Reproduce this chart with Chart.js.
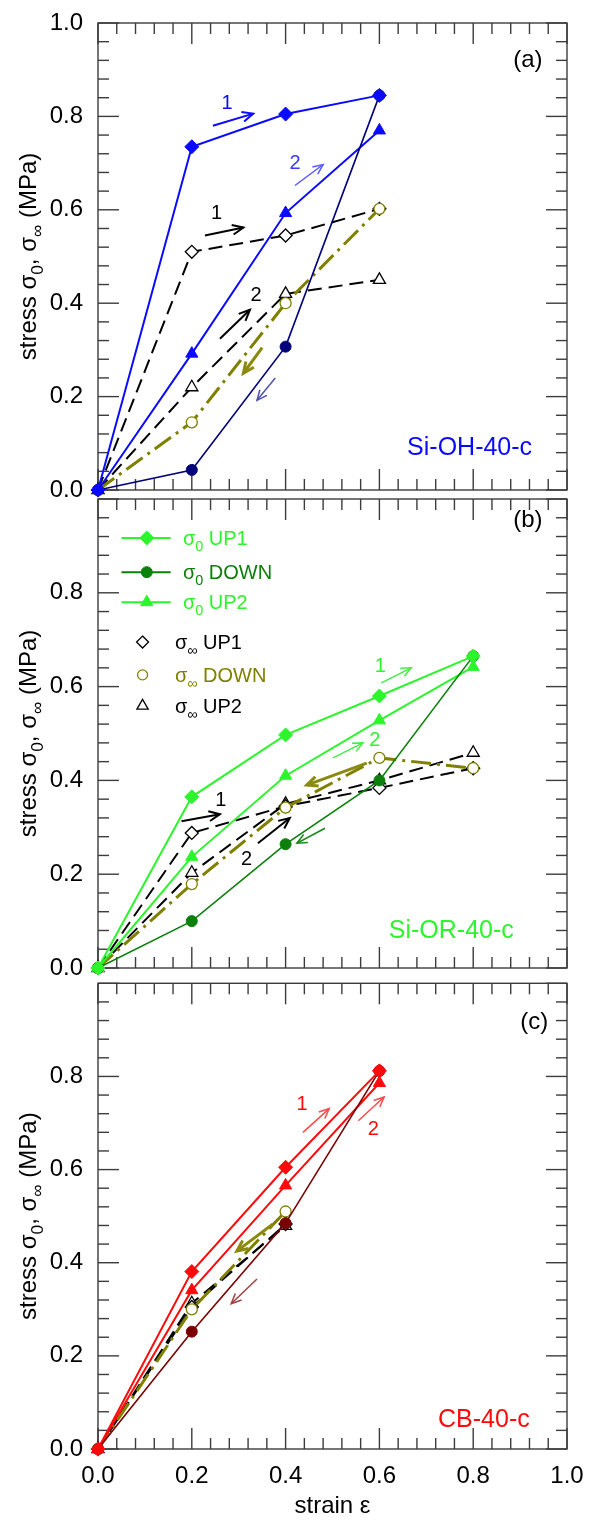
<!DOCTYPE html>
<html><head><meta charset="utf-8">
<script src="https://cdn.jsdelivr.net/npm/chart.js@4.4.0/dist/chart.umd.min.js"></script>
<style>
html,body{margin:0;padding:0;background:#fff;}
body{width:589px;height:1521px;position:relative;overflow:hidden;}
canvas{position:absolute;left:0;}
</style></head><body>
<canvas id="ca" width="589" height="500" style="top:0px"></canvas>
<canvas id="cb" width="589" height="490" style="top:490px"></canvas>
<canvas id="cc" width="589" height="546" style="top:975px"></canvas>
<script>
// ---------------- DATA ----------------
const xTicks = [0, 0.2, 0.4, 0.6, 0.8, 1.0];
const xTickLabels = ['0.0', '0.2', '0.4', '0.6', '0.8', '1.0'];
const yTicksA = [0, 0.2, 0.4, 0.6, 0.8, 1.0];
const yTickLabelsA = ['0.0', '0.2', '0.4', '0.6', '0.8', '1.0'];
const yTicksBC = [0, 0.2, 0.4, 0.6, 0.8];
const yTickLabelsBC = ['0.0', '0.2', '0.4', '0.6', '0.8'];
const minorStep = 0.04;

// panel (a) Si-OH-40-c
const strainA = [0, 0.2, 0.4, 0.6];
const a_s0_up1 = [0, 0.735, 0.805, 0.845];
const a_s0_down = [0, 0.043, 0.307, 0.845];
const a_s0_up2 = [0, 0.292, 0.593, 0.770];
const a_sinf_up1 = [0, 0.510, 0.545, 0.602];
const a_sinf_down = [0, 0.145, 0.400, 0.602];
const a_sinf_up2 = [0, 0.220, 0.420, 0.450];

// panel (b) Si-OR-40-c
const strainB = [0, 0.2, 0.4, 0.6, 0.8];
const b_s0_up1 = [0, 0.365, 0.497, 0.580, 0.665];
const b_s0_down = [0, 0.100, 0.264, 0.400, 0.665];
const b_s0_up2 = [0, 0.237, 0.410, 0.528, 0.642];
const b_sinf_up1 = [0, 0.288, 0.345, 0.384, 0.426];
const b_sinf_down = [0, 0.179, 0.342, 0.448, 0.426];
const b_sinf_up2 = [0, 0.203, 0.350, 0.400, 0.459];

// panel (c) CB-40-c
const strainC = [0, 0.2, 0.4, 0.6];
const strainCinf = [0, 0.2, 0.4];
const c_s0_up1 = [0, 0.381, 0.605, 0.812];
const c_s0_down = [0, 0.252, 0.485, 0.812];
const c_s0_up2 = [0, 0.341, 0.566, 0.786];
const c_sinf_up1 = [0, 0.305, 0.483];
const c_sinf_down = [0, 0.300, 0.510];
const c_sinf_up2 = [0, 0.313, 0.479];

const legendLabels = ['UP1', 'DOWN', 'UP2', 'UP1', 'DOWN', 'UP2'];
const sampleNames = ['Si-OH-40-c', 'Si-OR-40-c', 'CB-40-c'];
const panelTags = ['(a)', '(b)', '(c)'];

// ---------------- STYLE ----------------
const FONT = "'Liberation Sans', Arial, sans-serif";
const BLUE = '#0a0aff', NAVY = '#00007a';
const LIME = '#2cf52c', DGREEN = '#0b800b';
const RED = '#ff0a0a', DRED = '#7a0000';
const OLIVE = '#808000';
const fontStr = (s) => s + 'px ' + FONT;

function pts(xs, ys) { return ys.map((y, i) => ({ x: xs[i], y: y })); }
function s0(label, xs, ys, color, shape, r, w) {
  return { label, data: pts(xs, ys), borderColor: color, backgroundColor: color,
    pointBackgroundColor: color, pointBorderColor: color, pointStyle: shape,
    pointRadius: r, pointBorderWidth: 1, borderWidth: w, tension: 0, fill: false, clip: false };
}
function sinf(label, xs, ys, color, shape, r, w, dash) {
  return { label, data: pts(xs, ys), borderColor: color, backgroundColor: '#fff',
    pointBackgroundColor: '#fff', pointBorderColor: color, pointStyle: shape,
    pointRadius: r, pointBorderWidth: 1.3, borderWidth: w, borderDash: dash,
    tension: 0, fill: false, clip: false };
}
const DASH = [14, 7];
const DASHDOT = [20, 6, 3, 6];

function buildSets(xs, xsInf, up1, down, up2, iu1, idn, iu2, cUp, cDown) {
  return [
    s0('σ0 UP1', xs, up1, cUp, 'rectRot', 7, 2),
    s0('σ0 DOWN', xs, down, cDown, 'circle', 5.5, 1.6),
    s0('σ0 UP2', xs, up2, cUp, 'triangle', 7, 2),
    sinf('σ∞ DOWN', xsInf, idn, OLIVE, 'circle', 5.5, 3, DASHDOT),
    sinf('σ∞ UP1', xsInf, iu1, '#000', 'rectRot', 6.5, 2, DASH),
    sinf('σ∞ UP2', xsInf, iu2, '#000', 'triangle', 7, 2, DASH)
  ];
}

// ---------------- DRAW HELPERS ----------------
function line(ctx, x1, y1, x2, y2) { ctx.beginPath(); ctx.moveTo(x1, y1); ctx.lineTo(x2, y2); ctx.stroke(); }
function richWidth(ctx, parts, size) {
  let w = 0;
  for (const p of parts) { ctx.font = fontStr(p.sub ? size * 0.72 : size); w += ctx.measureText(p.t).width; }
  return w;
}
function drawRich(ctx, parts, x, y, size, color, align) {
  const w = richWidth(ctx, parts, size);
  let cx = align === 'center' ? x - w / 2 : x;
  ctx.textAlign = 'left'; ctx.textBaseline = 'alphabetic';
  for (const p of parts) {
    ctx.font = fontStr(p.sub ? size * 0.72 : size);
    ctx.fillStyle = color;
    ctx.fillText(p.t, cx, y + (p.sub ? size * 0.3 : 0));
    cx += ctx.measureText(p.t).width;
  }
}
function arrow(ctx, x1, y1, x2, y2, color, w, head) {
  ctx.save(); ctx.strokeStyle = color; ctx.lineWidth = w; ctx.lineCap = 'butt';
  line(ctx, x1, y1, x2, y2);
  const ang = Math.atan2(y2 - y1, x2 - x1), h = head || 11, a = 0.42;
  ctx.beginPath();
  ctx.moveTo(x2 - h * Math.cos(ang - a), y2 - h * Math.sin(ang - a));
  ctx.lineTo(x2, y2);
  ctx.lineTo(x2 - h * Math.cos(ang + a), y2 - h * Math.sin(ang + a));
  ctx.stroke();
  ctx.restore();
}
function marker(ctx, shape, x, y, r, fill, stroke, lw) {
  ctx.save(); ctx.beginPath();
  if (shape === 'diamond') { ctx.moveTo(x, y - r); ctx.lineTo(x + r, y); ctx.lineTo(x, y + r); ctx.lineTo(x - r, y); ctx.closePath(); }
  else if (shape === 'circle') { ctx.arc(x, y, r, 0, Math.PI * 2); }
  else { const s = Math.sin(Math.PI / 3) * r; ctx.moveTo(x, y - r); ctx.lineTo(x + s, y + r / 2); ctx.lineTo(x - s, y + r / 2); ctx.closePath(); }
  ctx.fillStyle = fill; ctx.fill(); ctx.strokeStyle = stroke; ctx.lineWidth = lw; ctx.stroke();
  ctx.restore();
}

const framePlugin = {
  id: 'frame',
  beforeDatasetsDraw(chart) {
    const { ctx, chartArea: a, scales: { x, y } } = chart;
    ctx.save();
    ctx.strokeStyle = '#3c3c3c'; ctx.lineWidth = 1.4;
    ctx.strokeRect(a.left, a.top, a.right - a.left, a.bottom - a.top);
    const n = Math.round(1 / minorStep);
    for (let i = 0; i <= n; i++) {
      const v = i * minorStep, L = (i % 5 === 0) ? 21 : 11;
      const px = x.getPixelForValue(v), py = y.getPixelForValue(v);
      line(ctx, px, a.bottom, px, a.bottom - L);
      line(ctx, px, a.top, px, a.top + L);
      line(ctx, a.left, py, a.left + L, py);
      line(ctx, a.right, py, a.right - L, py);
    }
    ctx.restore();
  }
};

function decoPlugin(cfg) {
  return {
    id: 'deco',
    afterDatasetsDraw(chart) {
      const { ctx, chartArea: a, scales: { x, y } } = chart;
      const X = (v) => x.getPixelForValue(v), Y = (v) => y.getPixelForValue(v);
      ctx.save();
      // y title
      ctx.save();
      ctx.translate(36, (a.top + a.bottom) / 2);
      ctx.rotate(-Math.PI / 2);
      drawRich(ctx, [{ t: 'stress σ' }, { t: '0', sub: 1 }, { t: ', σ' }, { t: '∞', sub: 1 }, { t: ' (MPa)' }], 0, 0, 24, '#000', 'center');
      ctx.restore();
      // x title
      if (cfg.xTitle) {
        ctx.font = fontStr(24); ctx.fillStyle = '#000'; ctx.textAlign = 'center'; ctx.textBaseline = 'alphabetic';
        ctx.fillText(cfg.xTitle, (a.left + a.right) / 2, a.bottom + 64);
      }
      // panel tag
      ctx.font = fontStr(24); ctx.fillStyle = '#000'; ctx.textAlign = 'right'; ctx.textBaseline = 'alphabetic';
      ctx.fillText(cfg.tag[0], X(cfg.tag[1]), Y(cfg.tag[2]));
      // sample name
      ctx.font = fontStr(25); ctx.fillStyle = cfg.name[3]; ctx.textAlign = 'left';
      ctx.fillText(cfg.name[0], X(cfg.name[1]), Y(cfg.name[2]));
      // arrows
      for (const ar of cfg.arrows) arrow(ctx, X(ar[0]), Y(ar[1]), X(ar[2]), Y(ar[3]), ar[4], ar[5], ar[6]);
      // number labels
      ctx.textAlign = 'center'; ctx.textBaseline = 'middle';
      for (const nl of cfg.nums) { ctx.font = fontStr(20); ctx.fillStyle = nl[3]; ctx.fillText(nl[0], X(nl[1]), Y(nl[2])); }
      // legend
      if (cfg.legend) {
        for (const it of cfg.legend) {
          const py = Y(it.y);
          if (it.kind === 0) {
            ctx.save(); ctx.strokeStyle = it.color; ctx.lineWidth = 2; line(ctx, X(0.05), py, X(0.155), py); ctx.restore();
            marker(ctx, it.shape, X(0.104), py, it.r, it.color, it.color, 1);
            drawRich(ctx, [{ t: 'σ' }, { t: '0', sub: 1 }, { t: ' ' + it.text }], X(0.181), py + 7, 20, it.color, 'left');
          } else {
            marker(ctx, it.shape, X(0.095), py, it.r, '#fff', it.color, 1.3);
            drawRich(ctx, [{ t: 'σ' }, { t: '∞', sub: 1 }, { t: ' ' + it.text }], X(0.164), py + 7, 20, it.tcolor, 'left');
          }
        }
      }
      ctx.restore();
    }
  };
}

function makeChart(id, datasets, yTicks, yLabels, showX, padTop, xH, deco) {
  return new Chart(document.getElementById(id), {
    type: 'line',
    data: { datasets },
    options: {
      responsive: false, animation: false, devicePixelRatio: 1,
      layout: { padding: { top: padTop, right: 22, left: 0, bottom: 0 } },
      plugins: { legend: { display: false }, tooltip: { enabled: false } },
      scales: {
        x: {
          type: 'linear', min: 0, max: 1,
          grid: { display: false, drawTicks: false }, border: { display: false },
          afterBuildTicks: (s) => { s.ticks = xTicks.map(v => ({ value: v })); },
          ticks: { display: showX, padding: 13, color: '#000', font: { family: FONT, size: 24 }, maxRotation: 0, autoSkip: false,
            callback: (v) => { const i = xTicks.findIndex(t => Math.abs(t - v) < 1e-6); return i >= 0 ? xTickLabels[i] : ''; } },
          afterFit: (s) => { s.height = xH; s.paddingLeft = 0; s.paddingRight = 0; s.paddingTop = 0; s.paddingBottom = 0; }
        },
        y: {
          type: 'linear', min: 0, max: 1,
          grid: { display: false, drawTicks: false }, border: { display: false },
          afterBuildTicks: (s) => { s.ticks = yTicks.map(v => ({ value: v })); },
          ticks: { padding: 15, color: '#000', font: { family: FONT, size: 24 }, autoSkip: false,
            callback: (v) => { const i = yTicks.findIndex(t => Math.abs(t - v) < 1e-6); return i >= 0 ? yLabels[i] : ''; } },
          afterFit: (s) => { s.width = 98; s.paddingTop = 0; s.paddingBottom = 0; s.paddingLeft = 0; s.paddingRight = 0; }
        }
      }
    },
    plugins: [framePlugin, decoPlugin(deco)]
  });
}

// panel (a)
makeChart('ca',
  buildSets(strainA, strainA, a_s0_up1, a_s0_down, a_s0_up2, a_sinf_up1, a_sinf_down, a_sinf_up2, BLUE, NAVY),
  yTicksA, yTickLabelsA, false, 23, 10, {
    tag: [panelTags[0], 0.948, 0.905],
    name: [sampleNames[0], 0.659, 0.076, BLUE],
    arrows: [
      [0.245, 0.780, 0.331, 0.806, BLUE, 2, 12],
      [0.420, 0.652, 0.480, 0.697, '#5a5aff', 1.5, 11],
      [0.228, 0.545, 0.310, 0.562, '#000', 2, 12],
      [0.260, 0.324, 0.324, 0.386, '#000', 2, 12],
      [0.350, 0.305, 0.310, 0.250, '#8a8a10', 3, 12],
      [0.378, 0.240, 0.339, 0.192, '#5050b0', 1.5, 11]
    ],
    nums: [['1', 0.275, 0.827, BLUE], ['2', 0.420, 0.699, '#3a3aff'], ['1', 0.253, 0.592, '#000'], ['2', 0.337, 0.417, '#000']]
  });

// panel (b)
makeChart('cb',
  buildSets(strainB, strainB, b_s0_up1, b_s0_down, b_s0_up2, b_sinf_up1, b_sinf_down, b_sinf_up2, LIME, DGREEN),
  yTicksBC, yTickLabelsBC, false, 9, 12, {
    tag: [panelTags[1], 0.948, 0.940],
    name: [sampleNames[1], 0.620, 0.064, LIME],
    arrows: [
      [0.604, 0.608, 0.668, 0.640, '#44ee44', 1.5, 11],
      [0.501, 0.448, 0.565, 0.480, '#44ee44', 1.5, 11],
      [0.178, 0.313, 0.260, 0.328, '#000', 2, 12],
      [0.341, 0.266, 0.409, 0.320, '#000', 2, 12],
      [0.573, 0.437, 0.445, 0.390, '#8a8a10', 3, 12],
      [0.484, 0.298, 0.424, 0.266, '#1a8a1a', 1.5, 11]
    ],
    nums: [['1', 0.602, 0.642, LIME], ['2', 0.590, 0.486, LIME], ['1', 0.262, 0.358, '#000'], ['2', 0.317, 0.232, '#000']],
    legend: [
      { kind: 0, y: 0.917, color: LIME, shape: 'diamond', r: 7, text: legendLabels[0] },
      { kind: 0, y: 0.844, color: DGREEN, shape: 'circle', r: 5.5, text: legendLabels[1] },
      { kind: 0, y: 0.780, color: LIME, shape: 'triangle', r: 7, text: legendLabels[2] },
      { kind: 1, y: 0.695, color: '#000', tcolor: '#000', shape: 'diamond', r: 6, text: legendLabels[3] },
      { kind: 1, y: 0.625, color: OLIVE, tcolor: OLIVE, shape: 'circle', r: 5, text: legendLabels[4] },
      { kind: 1, y: 0.559, color: '#000', tcolor: '#000', shape: 'triangle', r: 6.5, text: legendLabels[5] }
    ]
  });

// panel (c)
makeChart('cc',
  buildSets(strainC, strainCinf, c_s0_up1, c_s0_down, c_s0_up2, c_sinf_up1, c_sinf_down, c_sinf_up2, RED, DRED),
  yTicksBC, yTickLabelsBC, true, 6, 72, {
    xTitle: 'strain ε',
    tag: [panelTags[2], 0.960, 0.902],
    name: [sampleNames[2], 0.725, 0.047, RED],
    arrows: [
      [0.437, 0.680, 0.493, 0.731, '#ff4a4a', 1.5, 11],
      [0.555, 0.705, 0.610, 0.756, '#ff4a4a', 1.5, 11],
      [0.373, 0.483, 0.296, 0.425, '#8a8a10', 3, 12],
      [0.339, 0.365, 0.284, 0.312, '#a04040', 1.5, 11]
    ],
    nums: [['1', 0.435, 0.739, RED], ['2', 0.587, 0.686, RED]]
  });
</script>
</body></html>
